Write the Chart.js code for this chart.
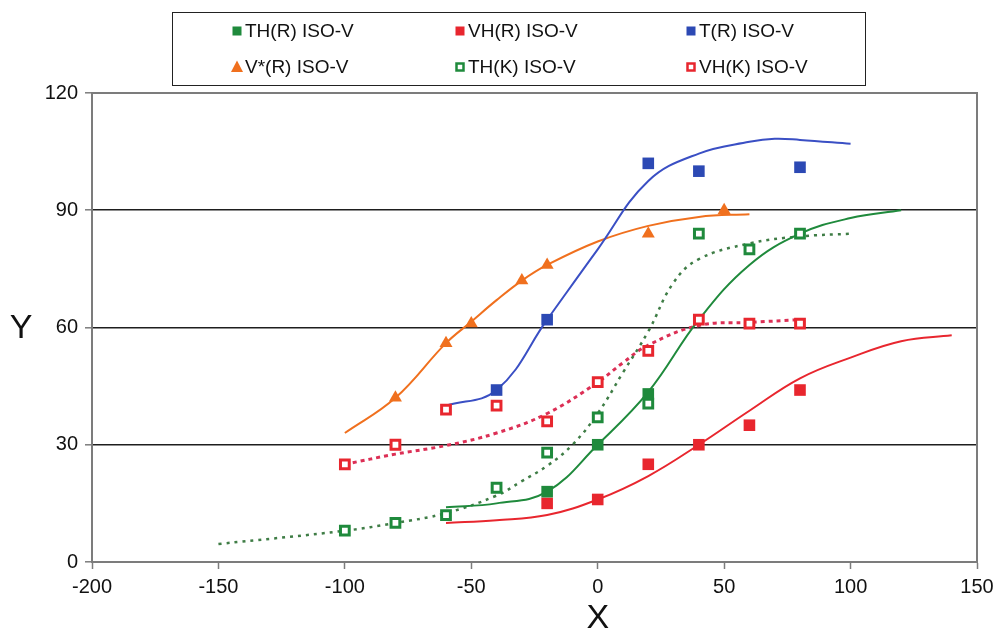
<!DOCTYPE html>
<html>
<head>
<meta charset="utf-8">
<script src="https://cdn.jsdelivr.net/npm/chart.js@4.4.1/dist/chart.umd.min.js"></script>
<style>
  html, body { margin: 0; padding: 0; background: #ffffff; }
  #wrap { width: 1002px; height: 636px; position: relative; }
</style>
</head>
<body>
<div id="wrap"><canvas id="chart"></canvas></div>
<script>
// ---- measured series (x, y pairs) ----
const thR_x  = [-20, 0, 20];
const thR_y  = [18, 30, 43];
const vhR_x  = [-20, 0, 20, 40, 60, 80];
const vhR_y  = [15, 16, 25, 30, 35, 44];
const tR_x   = [-40, -20, 20, 40, 80];
const tR_y   = [44, 62, 102, 100, 101];
const vsR_x  = [-80, -60, -50, -30, -20, 20, 50];
const vsR_y  = [42, 56, 61, 72, 76, 84, 90];
const thK_x  = [-100, -80, -60, -40, -20, 0, 20, 40, 60, 80];
const thK_y  = [8, 10, 12, 19, 28, 37, 40.5, 84, 80, 84];
const vhK_x  = [-100, -80, -60, -40, -20, 0, 20, 40, 60, 80];
const vhK_y  = [25, 30, 39, 40, 36, 46, 54, 62, 61, 61];

// ---- model curves (x, y pairs) ----
const thR_fit_x = [-60, -40, -20, 0, 20, 40, 60, 80, 100, 120];
const thR_fit_y = [14, 15, 18, 30, 43.5, 62, 76, 84, 88, 90];
const vhR_fit_x = [-60, -40, -20, 0, 20, 40, 60, 80, 100, 120, 140];
const vhR_fit_y = [10, 10.7, 12, 16, 22, 30, 38.7, 47, 52.3, 56.5, 58];
const tR_fit_x  = [-60, -40, -20, 0, 20, 40, 60, 70, 80, 100];
const tR_fit_y  = [40, 44, 62, 80, 97.5, 104.5, 107.5, 108.3, 108, 107];
const vsR_fit_x = [-100, -80, -60, -50, -40, -30, -20, 0, 20, 40, 60];
const vsR_fit_y = [33, 42, 56, 61.5, 67, 72, 76, 82, 86, 88.3, 89];
const thK_fit_x = [-150, -100, -80, -60, -40, -30, -20, -10, 0, 10, 20, 30, 40, 60, 80, 100];
const thK_fit_y = [4.6, 8, 10, 12.5, 17, 20.7, 24.6, 30, 38, 48.5, 59, 71.5, 77.5, 81.5, 83.3, 84];
const vhK_fit_x = [-100, -80, -60, -40, -20, 0, 10, 20, 40, 60, 80];
const vhK_fit_y = [25, 27.6, 29.8, 33, 38, 46, 51, 55.5, 60.5, 61.3, 62];

// ---- axis ticks ----
const xTicks = [-200, -150, -100, -50, 0, 50, 100, 150];
const yTicks = [0, 30, 60, 90, 120];

const pts = (xs, ys) => xs.map((x, i) => ({ x: x, y: ys[i] }));

const GREEN = '#1f8a3c';
const GREEN_DOT = '#3f7d46';
const RED = '#e8262e';
const RED_DOT = '#dc2f55';
const BLUE = '#2c49b4';
const BLUE_LINE = '#3a4fc4';
const ORANGE = '#f0701e';

function markerSet(label, data, color, style, open) {
  const r = style === 'triangle' ? 7.5 : (open ? 6.2 : 8.2);
  return {
    label: label,
    data: data,
    showLine: false,
    order: 1,
    pointStyle: style,
    pointRadius: r,
    pointHoverRadius: r,
    pointBackgroundColor: open ? '#ffffff' : color,
    pointBorderColor: color,
    pointBorderWidth: open ? 3 : 0,
    backgroundColor: open ? '#ffffff' : color,
    borderColor: color,
    isMarker: true,
    openMarker: !!open
  };
}

function curveSet(data, color, width, dash) {
  return {
    label: '',
    data: data,
    showLine: true,
    order: 2,
    pointRadius: 0,
    pointHoverRadius: 0,
    borderColor: color,
    borderWidth: width,
    borderDash: dash || [],
    borderCapStyle: 'butt',
    tension: 0.4,
    fill: false,
    isMarker: false
  };
}

const datasets = [
  markerSet('TH(R) ISO-V', pts(thR_x, thR_y), GREEN, 'rect', false),
  markerSet('VH(R) ISO-V', pts(vhR_x, vhR_y), RED, 'rect', false),
  markerSet('T(R) ISO-V', pts(tR_x, tR_y), BLUE, 'rect', false),
  markerSet('V*(R) ISO-V', pts(vsR_x, vsR_y), ORANGE, 'triangle', false),
  markerSet('TH(K) ISO-V', pts(thK_x, thK_y), GREEN, 'rect', true),
  markerSet('VH(K) ISO-V', pts(vhK_x, vhK_y), RED, 'rect', true),
  curveSet(pts(thR_fit_x, thR_fit_y), GREEN, 2),
  curveSet(pts(vhR_fit_x, vhR_fit_y), RED, 2),
  curveSet(pts(tR_fit_x, tR_fit_y), BLUE_LINE, 2),
  curveSet(pts(vsR_fit_x, vsR_fit_y), ORANGE, 2),
  curveSet(pts(thK_fit_x, thK_fit_y), GREEN_DOT, 2.5, [3, 5]),
  curveSet(pts(vhK_fit_x, vhK_fit_y), RED_DOT, 3, [4, 4])
];

const FONT = '"Liberation Sans", Arial, sans-serif';

// Frame on the top and right of the plot area
const frame = {
  id: 'frame',
  afterDatasetsDraw(chart) {
    const a = chart.chartArea, c = chart.ctx;
    c.save();
    c.strokeStyle = '#7c7c7c';
    c.lineWidth = 2;
    c.beginPath();
    c.moveTo(a.left, a.top);
    c.lineTo(a.right, a.top);
    c.lineTo(a.right, a.bottom);
    c.stroke();
    c.restore();
  }
};

// Upright axis titles
const axisTitles = {
  id: 'axisTitles',
  afterDraw(chart) {
    const c = chart.ctx, a = chart.chartArea;
    c.save();
    c.fillStyle = '#111111';
    c.font = '34px ' + FONT;
    c.textAlign = 'center';
    c.textBaseline = 'middle';
    c.fillText('Y', 21, (a.top + a.bottom) / 2 + 1);
    c.fillText('X', chart.scales.x.getPixelForValue(0), 619);
    c.restore();
  }
};

// Boxed three-column legend for the marker series
const boxLegend = {
  id: 'boxLegend',
  afterDraw(chart) {
    const c = chart.ctx;
    const box = { left: 172.5, top: 12.5, right: 865.5, bottom: 85.5 };
    const cols = [237, 460, 691];
    const rows = [31, 67];
    c.save();
    c.strokeStyle = '#222222';
    c.lineWidth = 1;
    c.strokeRect(box.left, box.top, box.right - box.left, box.bottom - box.top);
    c.font = '19px ' + FONT;
    c.textBaseline = 'middle';
    c.textAlign = 'left';
    const markers = chart.data.datasets.filter(d => d.isMarker);
    markers.forEach((d, i) => {
      const cx = cols[i % 3], cy = rows[Math.floor(i / 3)];
      if (d.pointStyle === 'triangle') {
        c.fillStyle = d.borderColor;
        c.beginPath();
        c.moveTo(cx, cy - 6.5);
        c.lineTo(cx + 6, cy + 5);
        c.lineTo(cx - 6, cy + 5);
        c.closePath();
        c.fill();
      } else if (d.openMarker) {
        c.fillStyle = '#ffffff';
        c.strokeStyle = d.borderColor;
        c.lineWidth = 2.5;
        c.fillRect(cx - 3.5, cy - 3.5, 7, 7);
        c.strokeRect(cx - 3.5, cy - 3.5, 7, 7);
      } else {
        c.fillStyle = d.borderColor;
        c.fillRect(cx - 4.5, cy - 4.5, 9, 9);
      }
      c.fillStyle = '#111111';
      c.fillText(d.label, cx + 8, cy + 1);
    });
    c.restore();
  }
};

new Chart(document.getElementById('chart'), {
  type: 'scatter',
  data: { datasets: datasets },
  options: {
    responsive: true,
    maintainAspectRatio: false,
    animation: false,
    devicePixelRatio: 1,
    layout: { padding: { top: 93, right: 25, left: 0, bottom: 0 } },
    plugins: {
      legend: { display: false },
      tooltip: { enabled: false }
    },
    scales: {
      x: {
        type: 'linear',
        min: xTicks[0],
        max: xTicks[xTicks.length - 1],
        afterBuildTicks: (s) => { s.ticks = xTicks.map(v => ({ value: v })); },
        afterFit: (s) => { s.height = 74; },
        ticks: {
          font: { family: FONT, size: 20 },
          color: '#111111',
          padding: 6,
          maxRotation: 0
        },
        grid: {
          drawOnChartArea: false,
          drawTicks: true,
          tickLength: 7,
          tickColor: '#7c7c7c',
          tickWidth: 1.5
        },
        border: { display: true, color: '#7c7c7c', width: 2 }
      },
      y: {
        type: 'linear',
        min: yTicks[0],
        max: yTicks[yTicks.length - 1],
        afterBuildTicks: (s) => { s.ticks = yTicks.map(v => ({ value: v })); },
        afterFit: (s) => { s.width = 92; },
        ticks: {
          font: { family: FONT, size: 20 },
          color: '#111111',
          padding: 7
        },
        grid: {
          drawTicks: true,
          tickLength: 7,
          tickColor: '#7c7c7c',
          tickWidth: 1.5,
          lineWidth: 1.6,
          color: (ctx) => {
            const v = ctx.tick ? ctx.tick.value : null;
            return (v === 0 || v === 120) ? 'rgba(0,0,0,0)' : '#1e1e1e';
          }
        },
        border: { display: true, color: '#7c7c7c', width: 2 }
      }
    }
  },
  plugins: [frame, axisTitles, boxLegend]
});
</script>
</body>
</html>
